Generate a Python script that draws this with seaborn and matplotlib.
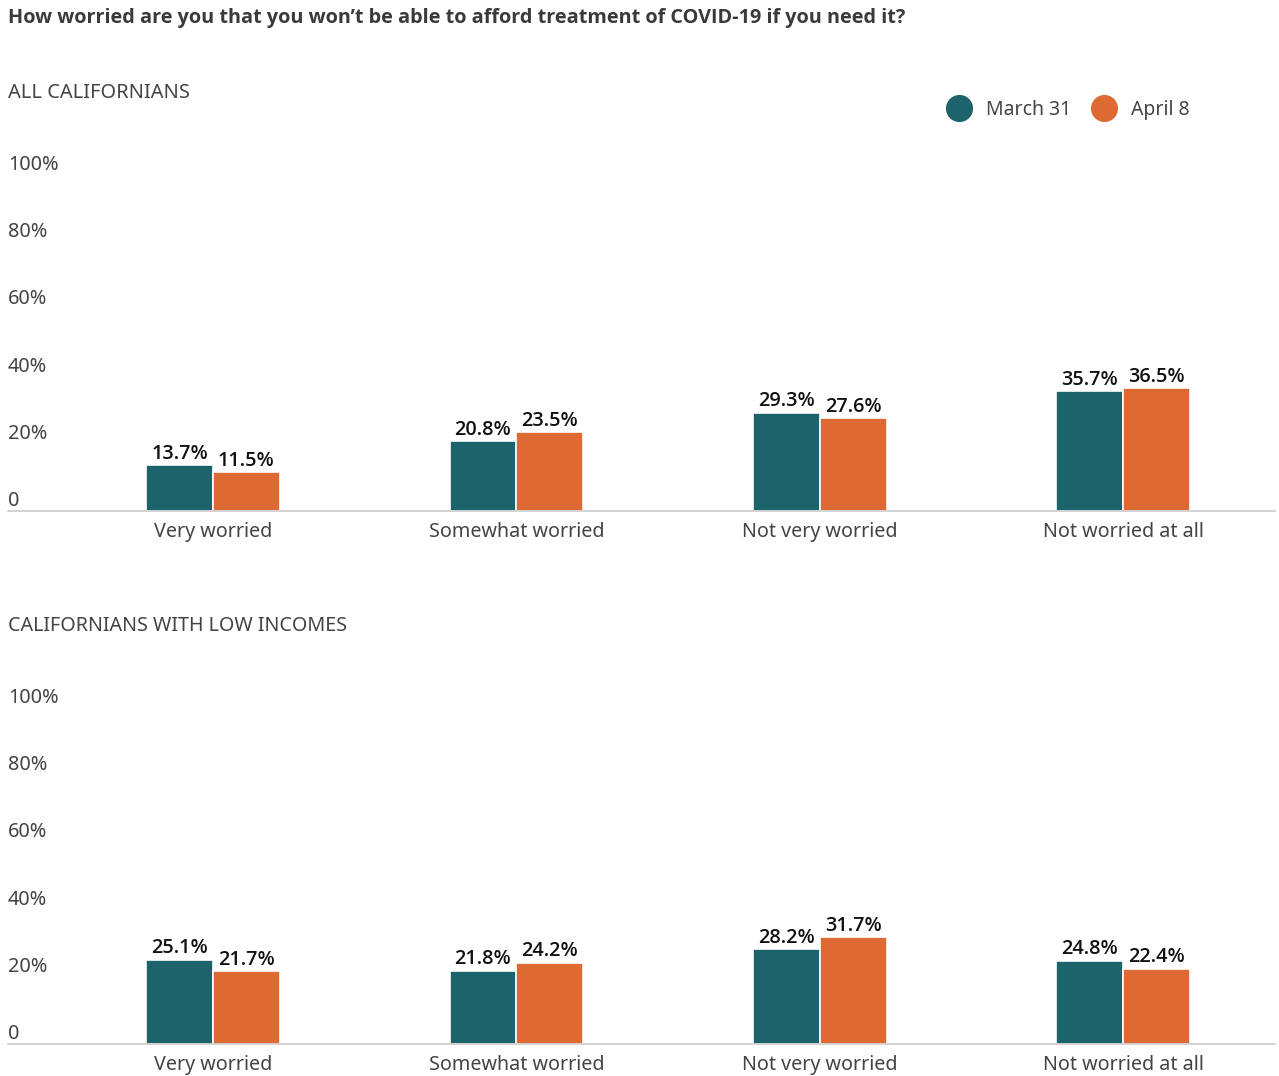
import matplotlib
matplotlib.use("Agg")
import matplotlib.pyplot as plt
from matplotlib.lines import Line2D
import seaborn as sns
import pandas as pd

categories = ["Very worried", "Somewhat worried", "Not very worried", "Not worried at all"]
series_names = ["March 31", "April 8"]
all_march = [13.7, 20.8, 29.3, 35.7]
all_april = [11.5, 23.5, 27.6, 36.5]
low_march = [25.1, 21.8, 28.2, 24.8]
low_april = [21.7, 24.2, 31.7, 22.4]
y_ticks = [0, 20, 40, 60, 80, 100]
y_tick_labels = ["0", "20%", "40%", "60%", "80%", "100%"]
colors = ["#1c636b", "#dd6a33"]
title = "How worried are you that you won\u2019t be able to afford treatment of COVID-19 if you need it?"
panel_titles = ["ALL CALIFORNIANS", "CALIFORNIANS WITH LOW INCOMES"]

sns.set_style("white")
plt.rcParams["font.family"] = ["Noto Sans", "DejaVu Sans"]

def make_df(m, a):
    rows = []
    for c, v in zip(categories, m):
        rows.append({"cat": c, "series": series_names[0], "val": v})
    for c, v in zip(categories, a):
        rows.append({"cat": c, "series": series_names[1], "val": v})
    return pd.DataFrame(rows)

fig = plt.figure(figsize=(12.79, 10.76), dpi=100)
W, H = 1279, 1076
left = 8 / W
width = (1275 - 8) / W
ax1 = fig.add_axes([left, 1 - 511 / H, width, 336 / H])
ax2 = fig.add_axes([left, 1 - 1044 / H, width, 336 / H])

for ax, (m, a) in zip([ax1, ax2], [(all_march, all_april), (low_march, low_april)]):
    df = make_df(m, a)
    sns.barplot(data=df, x="cat", y="val", hue="series", hue_order=series_names,
                palette=colors, order=categories, width=0.44, ax=ax,
                edgecolor="white", linewidth=1.2, saturation=1, legend=False, errorbar=None)
    ax.set_ylim(0, 100)
    ax.set_xlim(-0.675, 3.5)
    ax.set_xlabel("")
    ax.set_ylabel("")
    for cont in ax.containers:
        ax.bar_label(cont, labels=[f"{v:.1f}%" for v in cont.datavalues], padding=1,
                     fontsize=14.3, color="#111111", fontweight="semibold",
                     family=["Open Sans", "Noto Sans", "DejaVu Sans"])
    ax.set_yticks(y_ticks)
    ax.set_yticklabels(y_tick_labels)
    ax.tick_params(axis="y", length=0, pad=0, labelsize=14.3, labelcolor="#444444")
    ax.tick_params(axis="x", length=0, pad=8, labelsize=14.2, labelcolor="#444444")
    for lab in ax.get_yticklabels():
        lab.set_ha("left")
        lab.set_va("bottom")
    for s in ["top", "right", "left"]:
        ax.spines[s].set_visible(False)
    ax.spines["bottom"].set_color("#cccccc")
    ax.spines["bottom"].set_linewidth(1.2)

fig.text(8 / W, 1 - 18 / H, title, fontsize=14.3, fontweight="bold", color="#3a3a3a",
         ha="left", va="center", family=["Open Sans", "Lato", "DejaVu Sans"])
fig.text(8 / W, 1 - 93 / H, panel_titles[0], fontsize=14.4, color="#444444", ha="left", va="center")
fig.text(8 / W, 1 - 626 / H, panel_titles[1], fontsize=14.2, color="#444444", ha="left", va="center")

handles = [Line2D([0], [0], marker="o", linestyle="", markersize=18.5,
                  markerfacecolor=c, markeredgecolor=c) for c in colors]
fig.legend(handles, series_names, loc="center right", bbox_to_anchor=(1190 / W, 1 - 110 / H),
           ncol=2, frameon=False, fontsize=14, labelcolor="#444444",
           handletextpad=0.7, columnspacing=1.0, handlelength=1.4, borderaxespad=0, borderpad=0)

fig.savefig("out.png", dpi=100, facecolor="white")
